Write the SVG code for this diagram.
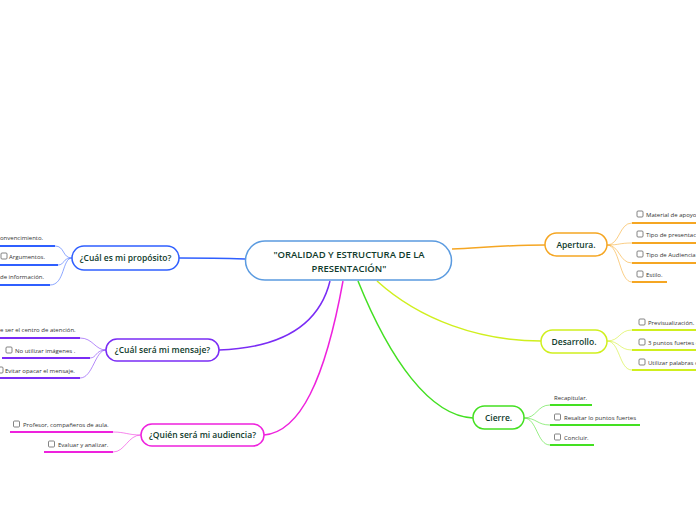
<svg xmlns="http://www.w3.org/2000/svg" width="696" height="520" viewBox="0 0 696 520">
<style>
.node{fill:#fff;stroke-width:1.5}
.nt{font-family:"Open Sans","Noto Sans",sans-serif;font-weight:600;fill:#0f3b2c;text-anchor:middle}
.ct{font-family:"Open Sans","Noto Sans",sans-serif;font-size:6px;fill:#333}
.cb{fill:#fff;stroke:#666;stroke-width:0.8}
.ul{fill:none;stroke-width:2}
.fan{fill:none;stroke-width:1;opacity:0.55}
.main{fill:none;stroke-width:1.5}
</style>
<rect width="696" height="520" fill="#fff"/>
<g id="connectors">
<path class="main" stroke="#2f5fff" d="M245,259 C215,258 200,258 179,258"/>
<path class="main" stroke="#7a2cf5" d="M330,281 C318,330 275,348 219,350"/>
<path class="main" stroke="#ee22dd" d="M343,281 C325,380 300,432 264,435"/>
<path class="main" stroke="#44e022" d="M358,281 C390,360 430,416 473,418"/>
<path class="main" stroke="#d0ef1e" d="M377,281 C420,320 480,341 541,341"/>
<path class="main" stroke="#f5a623" d="M452,249 C490,247 510,245 545,245"/>
<!-- fans -->
<path class="fan" stroke="#2f5fff" d="M72,258 C62,258 65,246 55,246 M72,258 C62,258 65,265 58,265 M72,258 C62,258 65,285 50,285"/>
<path class="fan" stroke="#7a2cf5" d="M106,350 C95,350 93,338 80,338 M106,350 C95,350 97,358 90,358 M106,350 C95,350 93,378 80,378"/>
<path class="fan" stroke="#ee22dd" d="M141,435 C128,435 125,432 113,432 M141,435 C128,435 125,452 113,452"/>
<path class="fan" stroke="#f5a623" d="M607,245 C620,245 619,223 632,223 M607,245 C620,245 619,243 632,243 M607,245 C620,245 619,263 632,263 M607,245 C620,245 619,282 632,282"/>
<path class="fan" stroke="#d0ef1e" d="M607,341 C620,341 619,330 632,330 M607,341 C620,341 619,350 632,350 M607,341 C620,341 619,370 632,370"/>
<path class="fan" stroke="#44e022" d="M524,418 C537,418 537,405 550,405 M524,418 C537,418 537,425 550,425 M524,418 C537,418 537,445 550,445"/>
</g>
<g id="central">
<rect class="node" x="245.5" y="241" width="206" height="39" rx="19.5" stroke="#5b9be0"/>
<text class="nt" font-size="9.5" x="349" y="258">"ORALIDAD Y ESTRUCTURA DE LA</text>
<text class="nt" font-size="9.5" x="349" y="272">PRESENTACIÓN"</text>
</g>
<g id="proposito">
<rect class="node" x="72" y="246" width="107" height="24" rx="12" stroke="#2f5fff"/>
<text class="nt" font-size="8.5" x="125.5" y="261">¿Cuál es mi propósito?</text>
</g>
<g id="proposito-children">
<text class="ct" x="0" y="240">onvencimiento.</text>
<path class="ul" stroke="#2f5fff" d="M0,246 H55"/>
<rect class="cb" x="1" y="253" width="6" height="6" rx="1"/>
<text class="ct" x="9" y="259">Argumentos.</text>
<path class="ul" stroke="#2f5fff" d="M0,265 H58"/>
<text class="ct" x="0" y="279">de información.</text>
<path class="ul" stroke="#2f5fff" d="M0,285 H50"/>
</g>
<g id="mensaje">
<rect class="node" x="106" y="339" width="113" height="22" rx="11" stroke="#7a2cf5"/>
<text class="nt" font-size="8.5" x="162.5" y="353">¿Cuál será mi mensaje?</text>
</g>
<g id="mensaje-children">
<text class="ct" x="0" y="332">e ser el centro de atención.</text>
<path class="ul" stroke="#7a2cf5" d="M0,338 H80"/>
<rect class="cb" x="6" y="347" width="6" height="6" rx="1"/>
<text class="ct" x="15" y="353">No utilizar imágenes .</text>
<path class="ul" stroke="#7a2cf5" d="M2,358 H90"/>
<rect class="cb" x="-3" y="367" width="6" height="6" rx="1"/>
<text class="ct" x="5" y="373">Evitar opacar el mensaje.</text>
<path class="ul" stroke="#7a2cf5" d="M0,378 H80"/>
</g>
<g id="audiencia">
<rect class="node" x="141" y="424" width="123" height="22" rx="11" stroke="#ee22dd"/>
<text class="nt" font-size="8.5" x="202.5" y="438">¿Quién será mi audiencia?</text>
</g>
<g id="audiencia-children">
<rect class="cb" x="13.5" y="421" width="6" height="6" rx="1"/>
<text class="ct" x="23" y="427">Profesor, compañeros de aula.</text>
<path class="ul" stroke="#ee22dd" d="M10,432 H113"/>
<rect class="cb" x="48.5" y="441" width="6" height="6" rx="1"/>
<text class="ct" x="58" y="447">Evaluar y analizar.</text>
<path class="ul" stroke="#ee22dd" d="M44,452 H113"/>
</g>
<g id="apertura">
<rect class="node" x="545" y="233" width="62" height="23" rx="11.5" stroke="#f5a623"/>
<text class="nt" font-size="8.5" x="576" y="248">Apertura.</text>
</g>
<g id="apertura-children">
<rect class="cb" x="637" y="211" width="6" height="6" rx="1"/>
<text class="ct" x="646" y="217">Material de apoyo</text>
<path class="ul" stroke="#f5a623" d="M632,223 H696"/>
<rect class="cb" x="637" y="231" width="6" height="6" rx="1"/>
<text class="ct" x="646" y="237">Tipo de presentac</text>
<path class="ul" stroke="#f5a623" d="M632,243 H696"/>
<rect class="cb" x="637" y="251" width="6" height="6" rx="1"/>
<text class="ct" x="646" y="257">Tipo de Audiencia</text>
<path class="ul" stroke="#f5a623" d="M632,263 H696"/>
<rect class="cb" x="637" y="271" width="6" height="6" rx="1"/>
<text class="ct" x="646" y="277">Estilo.</text>
<path class="ul" stroke="#f5a623" d="M632,282 H667"/>
</g>
<g id="desarrollo">
<rect class="node" x="541" y="330" width="66" height="23" rx="11.5" stroke="#d0ef1e"/>
<text class="nt" font-size="8.5" x="574" y="345">Desarrollo.</text>
</g>
<g id="desarrollo-children">
<rect class="cb" x="639" y="319" width="6" height="6" rx="1"/>
<text class="ct" x="648" y="325">Previsualización.</text>
<path class="ul" stroke="#d0ef1e" d="M632,330 H696"/>
<rect class="cb" x="639" y="339" width="6" height="6" rx="1"/>
<text class="ct" x="648" y="345">3 puntos fuertes o</text>
<path class="ul" stroke="#d0ef1e" d="M632,350 H696"/>
<rect class="cb" x="639" y="359" width="6" height="6" rx="1"/>
<text class="ct" x="648" y="365">Utilizar palabras c</text>
<path class="ul" stroke="#d0ef1e" d="M632,370 H696"/>
</g>
<g id="cierre">
<rect class="node" x="473" y="406" width="51" height="23" rx="11.5" stroke="#44e022"/>
<text class="nt" font-size="8.5" x="498.5" y="421">Cierre.</text>
</g>
<g id="cierre-children">
<text class="ct" x="554" y="400">Recapitular.</text>
<path class="ul" stroke="#44e022" d="M550,405 H592"/>
<rect class="cb" x="554.5" y="414" width="6" height="6" rx="1"/>
<text class="ct" x="564" y="420">Resaltar lo puntos fuertes</text>
<path class="ul" stroke="#44e022" d="M550,425 H640"/>
<rect class="cb" x="554.5" y="434" width="6" height="6" rx="1"/>
<text class="ct" x="564" y="440">Concluir.</text>
<path class="ul" stroke="#44e022" d="M550,445 H594"/>
</g>
</svg>
